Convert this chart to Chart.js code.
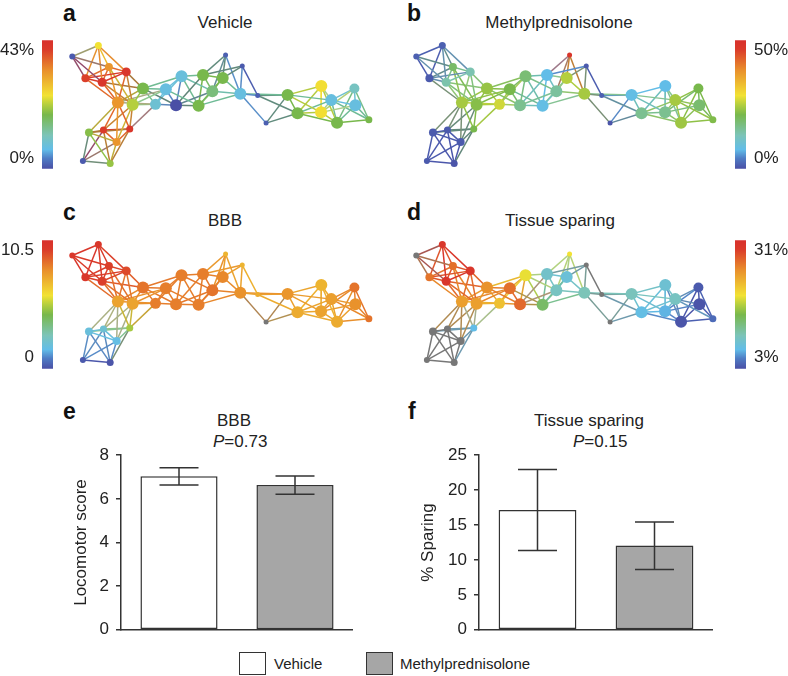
<!DOCTYPE html>
<html>
<head>
<meta charset="utf-8">
<script src="https://cdn.jsdelivr.net/npm/chart.js@4"></script>
<style>
html, body { margin: 0; background: #fff; }
#page { position: relative; width: 788px; height: 676px; overflow: hidden; font-family: "Liberation Sans", Arial, sans-serif; color: #222; }
#page canvas { position: absolute; }
.txt { position: absolute; font-size: 17px; line-height: 20px; white-space: nowrap; }
.ctr { transform: translateX(-50%); }
.letra { position: absolute; font-size: 23px; line-height: 26px; font-weight: bold; color: #111; }
.leg { position: absolute; font-size: 15px; line-height: 18px; white-space: nowrap; }
.caixa { position: absolute; top: 652px; width: 27px; height: 23px; box-sizing: border-box; border: 1.5px solid #333; }
</style>
</head>
<body>
<div id="page">
  <div class="letra" style="left:63px;top:0px">a</div>
  <div class="letra" style="left:407px;top:0px">b</div>
  <div class="letra" style="left:63px;top:199px">c</div>
  <div class="letra" style="left:407px;top:199px">d</div>
  <div class="letra" style="left:63px;top:398px">e</div>
  <div class="letra" style="left:408px;top:398px">f</div>

  <div class="txt ctr" style="left:225px;top:13px">Vehicle</div>
  <div class="txt ctr" style="left:559px;top:13px">Methylprednisolone</div>
  <div class="txt ctr" style="left:225px;top:211px">BBB</div>
  <div class="txt ctr" style="left:560px;top:211px">Tissue sparing</div>
  <div class="txt ctr" style="left:234px;top:411px">BBB</div>
  <div class="txt" style="left:213px;top:432px"><i>P</i>=0.73</div>
  <div class="txt ctr" style="left:589px;top:411px">Tissue sparing</div>
  <div class="txt" style="left:573px;top:432px"><i>P</i>=0.15</div>

  <div class="caixa" style="left:239px;background:#fff"></div>
  <div class="leg" style="left:274px;top:655px">Vehicle</div>
  <div class="caixa" style="left:366px;background:#a6a6a6"></div>
  <div class="leg" style="left:400px;top:655px">Methylprednisolone</div>
</div>

<script>
// ---- dados

// posição dos nós da rede (layout igual nos quatro painéis)
const nodeX = [66.7, 93.7, 104.7, 122.7, 80.3, 97.7, 114, 129.3, 140, 84, 99, 126.3, 112.7, 77.7, 106, 153, 163.7, 174.3, 180, 197.7, 202.3, 212, 222.7, 225.7, 243, 241, 259, 267.7, 290, 300.3, 325, 324.7, 335.3, 359.3, 360.3, 341.3, 374.3];
const nodeY = [52.3, 40.3, 63.7, 69, 76, 80.3, 102.3, 104.7, 87, 135, 132.3, 131, 145.3, 166, 168.7, 104.3, 88, 105.3, 73.7, 105.7, 72.3, 90, 75.7, 50.7, 62.7, 92.7, 94.7, 124.7, 94, 114, 84.3, 113, 99.7, 87, 105.3, 124.3, 121];
const nodeSize = [3, 3.5, 4, 4.5, 4, 4.5, 6, 6, 6, 4, 3.5, 3.5, 4, 3, 3.5, 5.5, 6, 6, 6, 6, 6, 6, 6, 2.5, 2.5, 6, 2.5, 2.5, 6, 6, 6, 6, 6, 5, 6, 6, 3.5];

// ligações entre os nós
const edges = [
    [0,1],[0,2],[0,4],[0,5],[1,2],[1,3],[1,4],[1,5],[2,3],[2,4],[2,5],[3,4],[3,5],[4,5],
    [2,6],[2,7],[3,6],[3,7],[3,8],[4,6],[5,6],[5,7],[5,8],
    [6,9],[6,10],[6,11],[6,12],[7,10],[7,11],[7,12],[7,8],[6,8],[6,15],[7,15],[7,16],[6,16],[11,15],
    [9,10],[9,11],[9,12],[9,13],[9,14],[10,11],[10,12],[10,13],[10,14],[11,12],[11,14],[12,13],[12,14],[13,14],
    [8,15],[8,16],[8,17],[8,18],[15,16],[15,17],[15,18],[16,17],[16,18],[16,19],[17,18],[17,19],[17,20],[17,21],
    [18,19],[18,20],[18,21],[19,20],[19,21],[19,25],[19,22],[20,21],[20,22],[20,23],[20,24],[21,22],[21,23],[21,25],
    [22,23],[22,24],[22,25],[23,25],[24,25],[24,26],[25,26],[25,27],[25,28],
    [26,28],[26,29],[27,28],[27,29],[28,29],[28,30],[28,31],[28,32],[29,30],[29,31],[29,32],[29,35],
    [30,31],[30,32],[30,35],[31,32],[31,33],[31,34],[31,35],[32,33],[32,34],[32,35],[32,36],[33,34],[33,35],[33,36],[34,35],[34,36],[35,36]
];

// posição de cada nó na escala de cores (0 = azul, 100 = vermelho, null = cinza)
const vehicleLevels = [2, 57, 75, 95, 92, 95, 75, 50, 42, 44, 93, 95, 75, 2, 46, 20, 17, 0, 18, 42, 42, 35, 42, 3, 2, 17, 3, 3, 42, 42, 58, 58, 17, 24, 17, 42, 42];
const methylLevels = [3, 3, 38, 27, 2, 28, 48, 44, 46, 2, 2, 42, 2, 2, 1, 53, 42, 32, 36, 16, 15, 30, 50, 96, 2, 48, 3, 1, 16, 32, 15, 32, 48, 42, 37, 47, 43];
const bbbLevels = [95, 95, 92, 90, 95, 92, 72, 72, 82, 18, 20, 48, 16, 2, 1, 80, 80, 80, 80, 80, 80, 82, 78, 68, 68, 76, 70, null, 75, 70, 68, 72, 73, 82, 76, 70, 82];
const sparingLevels = [null, 95, 83, 95, 82, 96, 73, 73, 76, null, null, 15, null, null, null, 65, 83, 84, 56, 38, 22, 24, 19, 57, null, 26, null, null, 25, 16, 20, 14, 24, 2, 1, 1, 5];

// escala de cores
const colorStops = [0, 8, 15, 26, 42, 50, 57, 77, 93, 100];
const colorRgb = [[74,79,165],[79,124,196],[98,189,232],[124,196,184],[120,184,76],[181,207,62],[242,226,52],[233,142,44],[218,58,42],[216,48,44]];
const semDados = [119,119,119];

// barras
const groupLabels = ['Vehicle', 'Methylprednisolone'];
const barColors = ['#ffffff', '#a6a6a6'];
const bbbMeans = [7.03, 6.63];
const bbbLow = [6.63, 6.21];
const bbbHigh = [7.43, 7.05];
const sparingMeans = [17.15, 12.08];
const sparingLow = [11.34, 8.64];
const sparingHigh = [22.95, 15.43];

Chart.defaults.font.family = '"Liberation Sans", Arial, sans-serif';
Chart.defaults.font.size = 17;
Chart.defaults.color = '#222';
Chart.defaults.animation = false;
Chart.defaults.responsive = false;
Chart.defaults.plugins.legend.display = false;
Chart.defaults.plugins.tooltip.enabled = false;

// cria um canvas posicionado na página
function novoCanvas(left, top, width, height) {
    const c = document.createElement('canvas');
    c.width = width;
    c.height = height;
    c.style.left = left + 'px';
    c.style.top = top + 'px';
    document.getElementById('page').appendChild(c);
    return c.getContext('2d');
}

function corDoNivel(nivel) {
    if (nivel === null) return semDados;
    let i = 0;
    while (i < colorStops.length - 2 && nivel > colorStops[i + 1]) i++;
    const t = (nivel - colorStops[i]) / (colorStops[i + 1] - colorStops[i]);
    return colorRgb[i].map((v, k) => v + (colorRgb[i + 1][k] - v) * t);
}

function rgb(c) {
    return `rgb(${Math.round(c[0])}, ${Math.round(c[1])}, ${Math.round(c[2])})`;
}

// ---- redes

function desenharRede(levels, left, top) {
    const cores = levels.map(corDoNivel);
    const datasets = [{
        data: nodeX.map((x, i) => ({ x: x, y: nodeY[i] })),
        pointRadius: nodeSize,
        pointBackgroundColor: cores.map(rgb),
        pointBorderWidth: 0,
        showLine: false,
        order: 0
    }];
    // cada ligação leva a média das cores das duas pontas
    edges.forEach(([a, b]) => {
        datasets.push({
            data: [{ x: nodeX[a], y: nodeY[a] }, { x: nodeX[b], y: nodeY[b] }],
            borderColor: rgb(cores[a].map((v, k) => (v + cores[b][k]) / 2)),
            borderWidth: 1.5,
            pointRadius: 0,
            showLine: true,
            order: 1
        });
    });
    new Chart(novoCanvas(left, top, 335, 150), {
        type: 'scatter',
        data: { datasets: datasets },
        options: {
            layout: { padding: 0 },
            scales: {
                x: { display: false, min: 55, max: 390 },
                y: { display: false, min: 30, max: 180, reverse: true }
            }
        }
    });
}

desenharRede(vehicleLevels, 55, 30);
desenharRede(methylLevels, 399, 30);
desenharRede(bbbLevels, 55, 229);
desenharRede(sparingLevels, 399, 229);

// ---- barras de cores

function desenharBarraCores(left, top, ladoDireito, ticks, min, max, sufixo) {
    new Chart(novoCanvas(left, top - 15, ladoDireito ? 58 : 53, 165), {
        type: 'bar',
        data: {
            labels: [''],
            datasets: [{
                data: [[min, max]],
                barPercentage: 1,
                categoryPercentage: 1,
                backgroundColor: (ctx) => {
                    const area = ctx.chart.chartArea;
                    if (!area) return '#888';
                    const g = ctx.chart.ctx.createLinearGradient(0, area.bottom, 0, area.top);
                    colorStops.forEach((s, i) => g.addColorStop(s / 100, rgb(colorRgb[i])));
                    return g;
                }
            }]
        },
        options: {
            layout: { padding: { top: 15, bottom: 15 } },
            scales: {
                x: { display: false },
                y: {
                    position: ladoDireito ? 'right' : 'left',
                    min: min,
                    max: max,
                    afterBuildTicks: (axis) => { axis.ticks = ticks.map(v => ({ value: v })); },
                    afterFit: (axis) => { axis.width = ladoDireito ? 47 : 42; },
                    border: { display: false },
                    grid: { display: false, drawTicks: false },
                    ticks: { padding: 8, autoSkip: false, callback: (v) => v + sufixo }
                }
            }
        }
    });
}

desenharBarraCores(0, 37, false, [0, 43], -4.4, 47.2, '%');
desenharBarraCores(735, 37, true, [0, 50], -5.1, 54.9, '%');
desenharBarraCores(0, 237, false, [0, 10.5], -1.15, 11.53, '');
desenharBarraCores(735, 237, true, [3, 31], 0.1, 33.6, '%');

// ---- gráficos de barras

const barrasDeErro = {
    id: 'barrasDeErro',
    afterDatasetsDraw(chart, args, opts) {
        const ctx = chart.ctx;
        const y = chart.scales.y;
        ctx.save();
        ctx.strokeStyle = '#333';
        ctx.lineWidth = 1.5;
        chart.getDatasetMeta(0).data.forEach((barra, i) => {
            const topo = y.getPixelForValue(opts.high[i]);
            const base = y.getPixelForValue(opts.low[i]);
            ctx.beginPath();
            ctx.moveTo(barra.x, topo);
            ctx.lineTo(barra.x, base);
            ctx.moveTo(barra.x - 19.5, topo);
            ctx.lineTo(barra.x + 19.5, topo);
            ctx.moveTo(barra.x - 19.5, base);
            ctx.lineTo(barra.x + 19.5, base);
            ctx.stroke();
        });
        ctx.restore();
    }
};

function desenharBarras(left, larguraEixo, largura, means, low, high, max, passo, titulo) {
    new Chart(novoCanvas(left, 438, largura, 209), {
        type: 'bar',
        data: {
            labels: groupLabels,
            datasets: [{
                data: means,
                backgroundColor: barColors,
                borderColor: '#333',
                borderWidth: 1.5,
                borderSkipped: false,
                barPercentage: 0.665,
                categoryPercentage: 1
            }]
        },
        options: {
            layout: { padding: { top: 15 } },
            plugins: { barrasDeErro: { low: low, high: high } },
            scales: {
                x: {
                    border: { color: '#333', width: 1.5 },
                    grid: { display: false },
                    ticks: { display: false },
                    afterFit: (axis) => { axis.height = 15; }
                },
                y: {
                    min: 0,
                    max: max,
                    afterFit: (axis) => { axis.width = larguraEixo; },
                    border: { color: '#333', width: 1.5 },
                    grid: { drawOnChartArea: false, color: '#333', lineWidth: 1.5, tickLength: 5 },
                    ticks: { stepSize: passo, padding: 7, color: '#222' },
                    title: { display: true, text: titulo, color: '#222', padding: 0, font: { size: 17 } }
                }
            }
        },
        plugins: [barrasDeErro]
    });
}

desenharBarras(71, 50, 282, bbbMeans, bbbLow, bbbHigh, 8, 2, 'Locomotor score');
desenharBarras(418, 61, 295, sparingMeans, sparingLow, sparingHigh, 25, 5, '% Sparing');
</script>
</body>
</html>
